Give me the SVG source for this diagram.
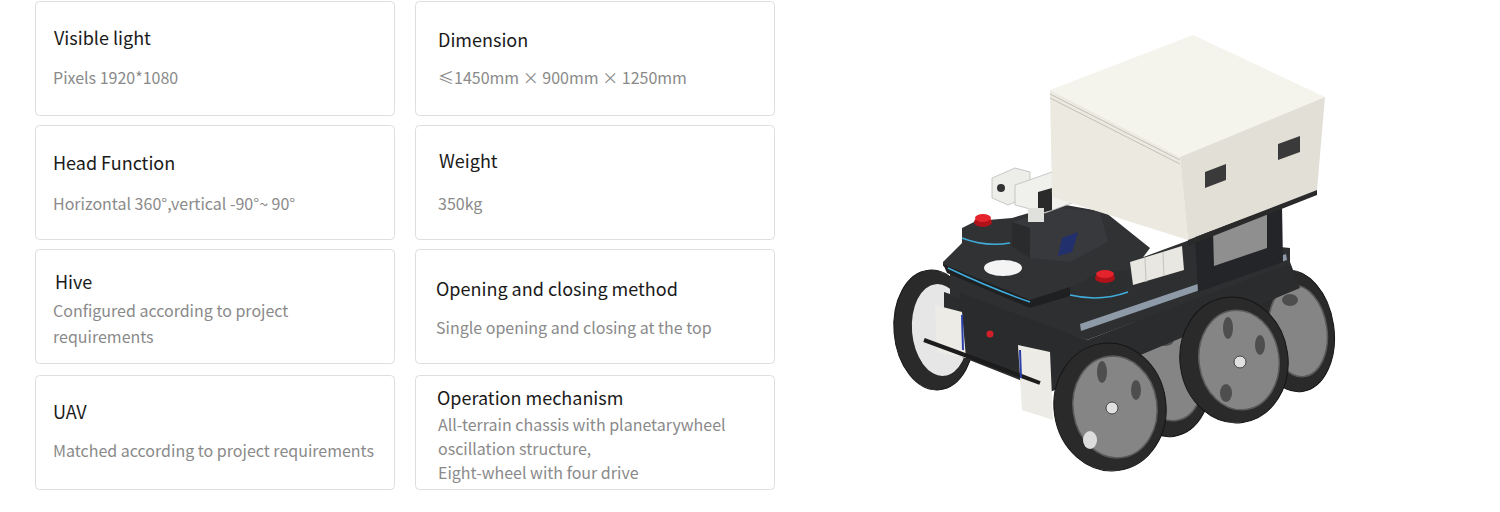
<svg xmlns="http://www.w3.org/2000/svg" width="1500" height="512" viewBox="0 0 1500 512">
<style>
.card{fill:#fff;stroke:#dedede;stroke-width:1}
.t{font-family:"Noto Sans CJK SC","Noto Sans",sans-serif;font-size:18px;fill:#1a1a1a}
.s{font-family:"Noto Sans CJK SC","Noto Sans",sans-serif;font-size:16px;fill:#8a8a8a}
.tire{fill:#2a2a2a;stroke:#151515;stroke-width:1}
.rim{fill:#858585;stroke:#5a5a5a;stroke-width:1.5}
.hole{fill:#4e4e4e}
.hub{fill:#e0e0e0;stroke:#444;stroke-width:1}
</style>
<rect width="1500" height="512" fill="#fff"/>

<g id="card-visible-light">
<rect class="card" x="35.5" y="1.5" width="359" height="114" rx="4"/>
<text class="t" x="54" y="45">Visible light</text>
<text class="s" x="53" y="84">Pixels 1920*1080</text>
</g>
<g id="card-dimension">
<rect class="card" x="415.5" y="1.5" width="359" height="114" rx="4"/>
<text class="t" x="438" y="47">Dimension</text>
<text class="s" x="438" y="84">≤1450mm × 900mm × 1250mm</text>
</g>
<g id="card-head-function">
<rect class="card" x="35.5" y="125.5" width="359" height="114" rx="4"/>
<text class="t" x="53" y="170">Head Function</text>
<text class="s" x="53" y="210">Horizontal 360°,vertical -90°~ 90°</text>
</g>
<g id="card-weight">
<rect class="card" x="415.5" y="125.5" width="359" height="114" rx="4"/>
<text class="t" x="439" y="168">Weight</text>
<text class="s" x="438" y="210">350kg</text>
</g>
<g id="card-hive">
<rect class="card" x="35.5" y="249.5" width="359" height="114" rx="4"/>
<text class="t" x="55" y="289">Hive</text>
<text class="s" x="53" y="317">Configured according to project</text>
<text class="s" x="53" y="343">requirements</text>
</g>
<g id="card-opening">
<rect class="card" x="415.5" y="249.5" width="359" height="114" rx="4"/>
<text class="t" x="436" y="296">Opening and closing method</text>
<text class="s" x="436" y="334">Single opening and closing at the top</text>
</g>
<g id="card-uav">
<rect class="card" x="35.5" y="375.5" width="359" height="114" rx="4"/>
<text class="t" x="53" y="419">UAV</text>
<text class="s" x="53" y="457">Matched according to project requirements</text>
</g>
<g id="card-operation">
<rect class="card" x="415.5" y="375.5" width="359" height="114" rx="4"/>
<text class="t" x="437" y="405">Operation mechanism</text>
<text class="s" x="438" y="431">All-terrain chassis with planetarywheel</text>
<text class="s" x="438" y="455">oscillation structure,</text>
<text class="s" x="438" y="479">Eight-wheel with four drive</text>
</g>

<g id="connectors"></g>

<g id="robot">
<!-- rear right wheel -->
<ellipse class="tire" cx="1294" cy="331" rx="40" ry="61" transform="rotate(-8 1294 331)"/>
<ellipse class="rim" cx="1298" cy="331" rx="29" ry="46" transform="rotate(-8 1298 331)"/>
<ellipse class="hole" cx="1290" cy="300" rx="8" ry="6"/>
<!-- middle hidden wheel -->
<ellipse class="tire" cx="1165" cy="374" rx="46" ry="63" transform="rotate(-8 1165 374)"/>
<ellipse class="rim" cx="1170" cy="374" rx="33" ry="47" transform="rotate(-8 1170 374)"/>
<ellipse class="hole" cx="1165" cy="340" rx="9" ry="6"/>
<!-- far left wheel -->
<ellipse class="tire" cx="934" cy="330" rx="40" ry="60" transform="rotate(-5 934 330)"/>
<ellipse cx="940" cy="330" rx="28" ry="46" fill="#e6e6e6" transform="rotate(-5 940 330)"/>
<!-- chassis lower body -->
<polygon points="944,292 1087,340 1290,262 1300,288 1100,372 1050,392 944,350" fill="#2b2c2e"/>
<polygon points="950,268 1130,262 1195,238 1290,248 1290,264 1087,340 950,296" fill="#2e2f31"/>
<polygon points="1080,324 1286,254 1287,260 1081,331" fill="#8e9aa8"/>
<!-- box support frame -->
<polygon points="1195,236 1282,205 1283,262 1198,292" fill="#242528"/>
<polygon points="1213,230 1267,212 1267,248 1214,266" fill="#8f8f8f"/>
<!-- deck -->
<polygon points="943,262 962,243 962,228 976,221 1012,218 1060,204 1105,212 1150,248 1135,268 1070,288 1030,302 943,266" fill="#303234"/>
<polygon points="943,264 1030,300 1070,287 1070,296 1030,308 947,273" fill="#1f2022"/>
<path d="M 948,268 Q 990,288 1030,302" fill="none" stroke="#40aedc" stroke-width="1.5"/>
<path d="M 962,238 Q 985,247 1010,243" fill="none" stroke="#40aedc" stroke-width="1.5"/>
<ellipse cx="1003" cy="268" rx="19" ry="8" fill="#f4f4f4"/>
<!-- head block -->
<polygon points="1012,222 1058,208 1100,212 1108,242 1070,262 1030,258 1012,246" fill="#37393c"/>
<polygon points="1012,222 1030,228 1030,258 1012,246" fill="#2a2b2d"/>
<polygon points="1062,238 1078,232 1072,252 1058,256" fill="#23306e"/>
<!-- right pod -->
<polygon points="1070,288 1100,272 1128,270 1128,296 1100,305 1070,303" fill="#2c2e30"/>
<path d="M 1070,295 Q 1100,302 1128,292" fill="none" stroke="#40aedc" stroke-width="1.5"/>
<!-- side modules -->
<polygon points="1130,262 1182,246 1184,270 1133,285" fill="#e8e7e2"/>
<path d="M 1145,258 L 1146,282 M 1163,252 L 1164,276" stroke="#c4c3be" stroke-width="1"/>
<!-- red buttons -->
<ellipse cx="983" cy="222" rx="9" ry="5" fill="#b0121a"/>
<ellipse cx="983" cy="218" rx="8" ry="4" fill="#e4232c"/>
<ellipse cx="1105" cy="278" rx="10" ry="5" fill="#b0121a"/>
<ellipse cx="1105" cy="274" rx="9" ry="4" fill="#e4232c"/>
<!-- camera -->
<polygon points="992,178 1015,168 1030,172 1030,196 1008,205 992,198" fill="#ededea" stroke="#bbb" stroke-width="0.8"/>
<circle cx="1001" cy="188" r="4" fill="#333"/>
<polygon points="1015,185 1052,172 1080,180 1080,200 1045,213 1015,205" fill="#f0f0ec" stroke="#bbb" stroke-width="0.8"/>
<polygon points="1038,192 1052,188 1052,210 1038,214" fill="#2a2a2a"/>
<rect x="1028" y="208" width="16" height="14" fill="#e0e0dc"/>
<!-- hive box -->
<polygon points="1050,90 1193,35 1325,97 1180,157" fill="#f4f3ec"/>
<polygon points="1050,90 1180,157 1188,240 1052,197" fill="#ebe9e0"/>
<polygon points="1180,157 1325,97 1317,190 1188,240" fill="#e2e0d6"/>
<path d="M 1050,94 L 1180,160 M 1050,98 L 1180,164" stroke="#b8b6ad" stroke-width="0.8"/>
<polygon points="1188,240 1317,190 1317,195 1188,246" fill="#2a2a2a"/>
<polygon points="1205,172 1226,164 1226,180 1205,188" fill="#3a3a3a"/>
<polygon points="1278,144 1300,136 1300,152 1278,160" fill="#3a3a3a"/>
<!-- front bumper -->
<polygon points="960,293 1087,340 1087,348 1052,378 958,350" fill="#2a2b2d"/>
<polygon points="935,305 962,312 966,358 937,352" fill="#ecebe6"/>
<circle cx="990" cy="334" r="3.5" fill="#d0202a"/>
<polygon points="1018,345 1050,352 1053,420 1022,410" fill="#ecebe6"/>
<path d="M 924,340 L 1000,368 L 1040,383" fill="none" stroke="#1c1c1c" stroke-width="4"/>
<path d="M 962,315 L 963,350 M 1020,350 L 1021,378" stroke="#2b3fa8" stroke-width="2"/>
<!-- front right wheels -->
<ellipse class="tire" cx="1234" cy="360" rx="54" ry="63" transform="rotate(-8 1234 360)"/>
<ellipse class="rim" cx="1239" cy="360" rx="40" ry="50" transform="rotate(-8 1239 360)"/>
<ellipse class="hole" cx="1228" cy="328" rx="5" ry="11"/>
<ellipse class="hole" cx="1260" cy="345" rx="5" ry="10"/>
<ellipse class="hole" cx="1226" cy="393" rx="6" ry="9"/>
<circle class="hub" cx="1240" cy="362" r="6"/>
<ellipse class="tire" cx="1110" cy="407" rx="56" ry="64" transform="rotate(-8 1110 407)"/>
<ellipse class="rim" cx="1115" cy="407" rx="42" ry="51" transform="rotate(-8 1115 407)"/>
<ellipse class="hole" cx="1102" cy="372" rx="5" ry="11"/>
<ellipse class="hole" cx="1136" cy="390" rx="5" ry="10"/>
<ellipse cx="1090" cy="440" rx="7" ry="9" fill="#ddd"/>
<circle class="hub" cx="1112" cy="408" r="6"/>
</g>
</svg>
